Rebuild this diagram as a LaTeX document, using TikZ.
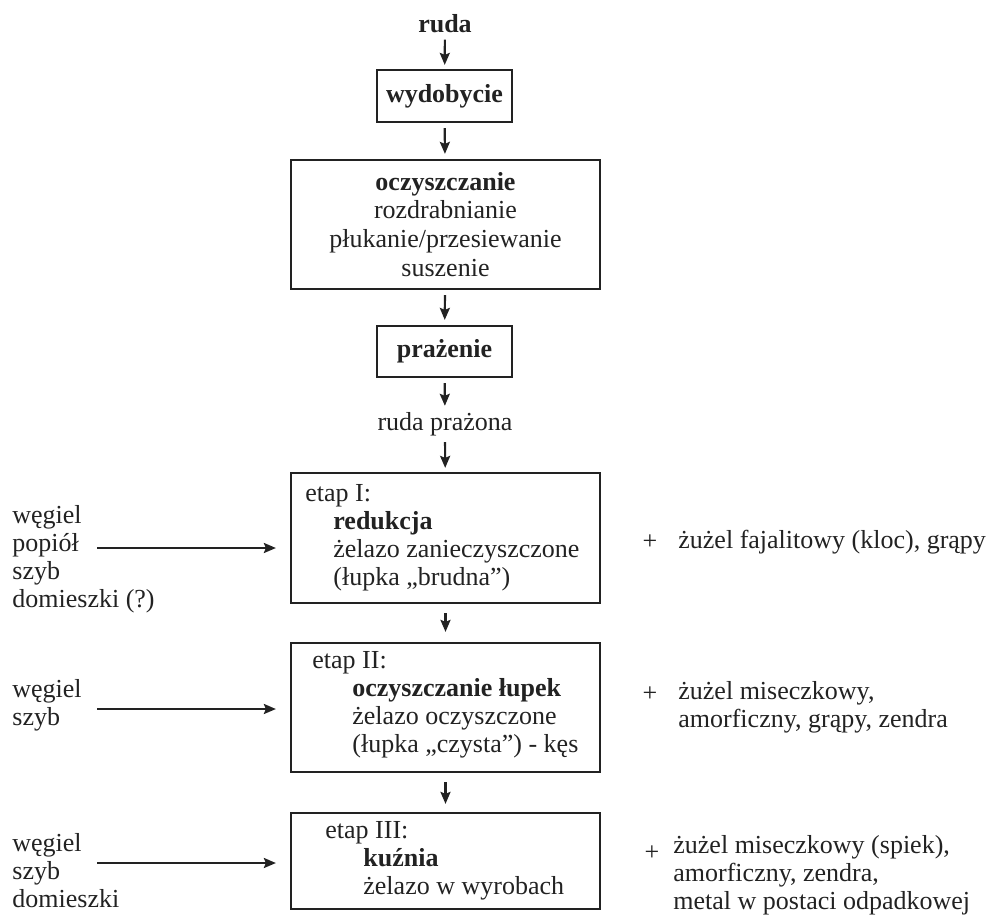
\documentclass[tikz,border=0pt]{standalone}
\usepackage{fontspec}
\setmainfont{Liberation Serif}
\usetikzlibrary{arrows.meta}
\definecolor{ink}{HTML}{222222}
\begin{document}
\begin{tikzpicture}[x=0.5pt,y=-0.5pt,
  every node/.style={font=\fontsize{13}{14}\selectfont, text=ink, inner sep=0pt},
  box/.style={draw=ink, line width=1.1pt, rectangle},
  arr/.style={draw=ink, line width=1.1pt, -{Stealth[length=6pt,width=5pt,inset=1pt]}},
  vshort/.style={shorten <=2.5pt, shorten >=2.5pt},
  lefttext/.style={anchor=west, align=left},
  righttext/.style={anchor=west, align=left}
]
\useasboundingbox (0,0) rectangle (992,915);

% main column
\node (ruda) at (445,24) {\textbf{ruda}};
\node[box, minimum width=67.5pt, minimum height=26pt] (wyd) at (444.5,96) {\textbf{wydobycie}};
\node[box, minimum width=154.5pt, minimum height=64.5pt, align=center, font=\fontsize{13}{14.4}\selectfont] (ocz) at (445.5,224.5)
  {\textbf{oczyszczanie}\\rozdrabnianie\\płukanie/przesiewanie\\suszenie};
\node[box, minimum width=67.5pt, minimum height=25.5pt] (praz) at (444.5,351.5) {\textbf{prażenie}};
\node (rp) at (445,424) {ruda prażona};

\node[box, minimum width=154.5pt, minimum height=65pt] (e1) at (445.5,538) {};
\node[anchor=west, align=left] (e1t) at (305,538)
  {etap I:\\\hspace*{14pt}\textbf{redukcja}\\\hspace*{14pt}żelazo zanieczyszczone\\\hspace*{14pt}(łupka „brudna”)};

\node[box, minimum width=154.5pt, minimum height=64.5pt] (e2) at (445.5,707.5) {};
\node[anchor=west, align=left] (e2t) at (312,705)
  {etap II:\\\hspace*{20pt}\textbf{oczyszczanie łupek}\\\hspace*{20pt}żelazo oczyszczone\\\hspace*{20pt}(łupka „czysta”) - kęs};

\node[box, minimum width=154.5pt, minimum height=48pt] (e3) at (445.5,861) {};
\node[anchor=west, align=left] (e3t) at (325,861)
  {etap III:\\\hspace*{19pt}\textbf{kuźnia}\\\hspace*{19pt}żelazo w wyrobach};

% vertical arrows
\draw[arr, shorten <=3pt, shorten >=2pt] (ruda) -- (wyd);
\draw[arr, vshort] (wyd) -- (ocz);
\draw[arr, vshort] (ocz) -- (praz);
\draw[arr, shorten <=2.5pt, shorten >=3pt] (praz) -- (rp);
\draw[arr, shorten <=3pt, shorten >=2pt] (rp) -- (e1);
\draw[arr, shorten <=4.5pt, shorten >=5pt] (e1) -- (e2);
\draw[arr, shorten <=4.5pt, shorten >=4pt] (e2) -- (e3);

% left inputs
\node[lefttext] (in1) at (12,559) {węgiel\\popiół\\szyb\\domieszki (?)};
\coordinate (s1) at (97,548);
\draw[arr, shorten >=7pt] (s1) -- (s1 -| e1.west);

\node[lefttext] (in2) at (12,705) {węgiel\\szyb};
\coordinate (s2) at (97,709);
\draw[arr, shorten >=7pt] (s2) -- (s2 -| e2.west);

\node[lefttext] (in3) at (12,871) {węgiel\\szyb\\domieszki};
\coordinate (s3) at (97,863);
\draw[arr, shorten >=7pt] (s3) -- (s3 -| e3.west);

% right outputs
\node (p1) at (650,542) {+};
\node[righttext] (out1) at (678,542) {żużel fajalitowy (kloc), grąpy};

\node (p2) at (650,694) {+};
\node[righttext] (out2) at (678,707) {żużel miseczkowy,\\amorficzny, grąpy, zendra};

\node (p3) at (652,853) {+};
\node[righttext] (out3) at (673,875) {żużel miseczkowy (spiek),\\amorficzny, zendra,\\metal w postaci odpadkowej};
\end{tikzpicture}
\end{document}
